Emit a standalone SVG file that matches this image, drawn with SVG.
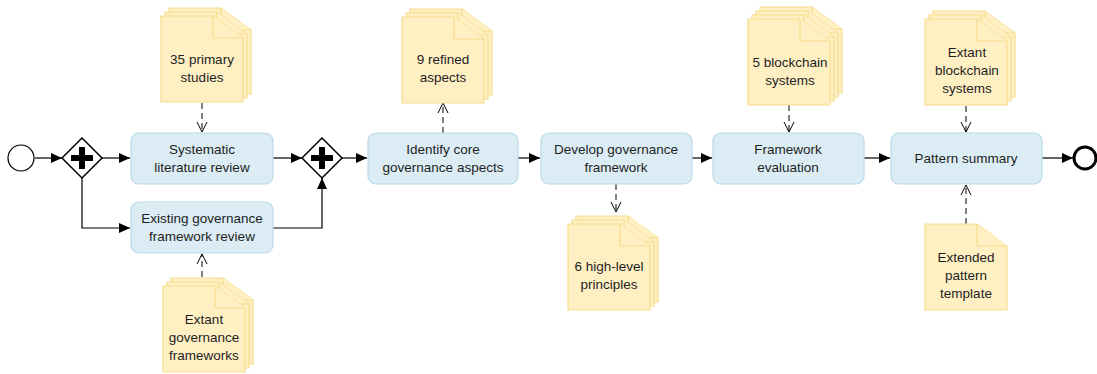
<svg xmlns="http://www.w3.org/2000/svg" xmlns:xlink="http://www.w3.org/1999/xlink" width="1097" height="374" viewBox="0 0 1097 374">
<style>
.task{fill:#dbecf4;stroke:#b9d9ea;stroke-width:1.2}
.doc{fill:#fff0c4;stroke:#f8dc8c;stroke-width:1.2}
.t{font-family:"Liberation Sans",Arial,sans-serif;font-size:13.5px;fill:#1e1e1e;text-anchor:middle}
.flow{fill:none;stroke:#000;stroke-width:1.2}
.assoc{fill:none;stroke:#000;stroke-width:1;stroke-dasharray:6,4}
.gw{fill:#fff;stroke:#000;stroke-width:1.5}
.plus{stroke:#000;stroke-width:6;stroke-linecap:butt}
</style>
<defs>
<marker id="arr" markerWidth="12" markerHeight="10" refX="11" refY="5" orient="auto" markerUnits="userSpaceOnUse">
<path d="M0,0 L11,5 L0,10 z" fill="#000"/>
</marker>
<marker id="open" markerWidth="12" markerHeight="12" refX="10" refY="6" orient="auto" markerUnits="userSpaceOnUse">
<path d="M0,1 L10,6 L0,11" fill="none" stroke="#000" stroke-width="1"/>
</marker>
<g id="page">
<path class="doc" d="M0,0 H52 L82,22 V86 H0 Z"/>
<path class="doc" d="M52,0 V22 H82"/>
</g>
<g id="stack3">
<use xlink:href="#page" x="8" y="-8"/>
<use xlink:href="#page" x="4" y="-4"/>
<use xlink:href="#page" x="0" y="0"/>
</g>
</defs>

<g id="connectors">
<path class="flow" d="M35,158 H62" marker-end="url(#arr)"/>
<path class="flow" d="M102,158 H130" marker-end="url(#arr)"/>
<path class="flow" d="M82,177 V228 H130" marker-end="url(#arr)"/>
<path class="flow" d="M273,158 H302" marker-end="url(#arr)"/>
<path class="flow" d="M273,228 H322 V178" marker-end="url(#arr)"/>
<path class="flow" d="M342,158 H367" marker-end="url(#arr)"/>
<path class="flow" d="M518,158 H540" marker-end="url(#arr)"/>
<path class="flow" d="M692,158 H712" marker-end="url(#arr)"/>
<path class="flow" d="M864,158 H890" marker-end="url(#arr)"/>
<path class="flow" d="M1042,158 H1073" marker-end="url(#arr)"/>
<path class="assoc" d="M202,103 V132" marker-end="url(#open)"/>
<path class="assoc" d="M202,277 V254" marker-end="url(#open)"/>
<path class="assoc" d="M443,133 V103" marker-end="url(#open)"/>
<path class="assoc" d="M616,184 V212" marker-end="url(#open)"/>
<path class="assoc" d="M789,105 V132" marker-end="url(#open)"/>
<path class="assoc" d="M966,106 V132" marker-end="url(#open)"/>
<path class="assoc" d="M966,224 V185" marker-end="url(#open)"/>
</g>

<g id="start"><circle cx="21" cy="158" r="13" fill="#fff" stroke="#000" stroke-width="1.2"/></g>
<g id="end"><circle cx="1085" cy="158" r="11" fill="#fff" stroke="#000" stroke-width="3"/></g>

<g id="gw1">
<path class="gw" d="M82,138 L102,158 L82,178 L62,158 Z"/>
<path class="plus" d="M71,158 H93 M82,147 V169"/>
</g>
<g id="gw2">
<path class="gw" d="M322,138 L342,158 L322,178 L302,158 Z"/>
<path class="plus" d="M311,158 H333 M322,147 V169"/>
</g>

<g id="task1"><rect class="task" x="131" y="133" width="142" height="51" rx="8"/>
<text class="t" x="202" y="154">Systematic</text><text class="t" x="202" y="172">literature review</text></g>
<g id="task2"><rect class="task" x="131" y="202" width="142" height="51" rx="8"/>
<text class="t" x="202" y="223">Existing governance</text><text class="t" x="202" y="241">framework review</text></g>
<g id="task3"><rect class="task" x="368" y="133" width="150" height="51" rx="8"/>
<text class="t" x="443" y="154">Identify core</text><text class="t" x="443" y="172">governance aspects</text></g>
<g id="task4"><rect class="task" x="541" y="133" width="151" height="51" rx="8"/>
<text class="t" x="616" y="154">Develop governance</text><text class="t" x="616" y="172">framework</text></g>
<g id="task5"><rect class="task" x="713" y="133" width="151" height="51" rx="8"/>
<text class="t" x="788" y="154">Framework</text><text class="t" x="788" y="172">evaluation</text></g>
<g id="task6"><rect class="task" x="891" y="133" width="151" height="51" rx="8"/>
<text class="t" x="966" y="163">Pattern summary</text></g>

<g id="doc1"><use xlink:href="#stack3" x="161" y="16"/>
<text class="t" x="202" y="64">35 primary</text><text class="t" x="202" y="82">studies</text></g>
<g id="doc2"><use xlink:href="#stack3" x="163" y="286"/>
<text class="t" x="204" y="324">Extant</text><text class="t" x="204" y="342">governance</text><text class="t" x="204" y="360">frameworks</text></g>
<g id="doc3"><use xlink:href="#stack3" x="402" y="17"/>
<text class="t" x="443" y="64">9 refined</text><text class="t" x="443" y="82">aspects</text></g>
<g id="doc4"><use xlink:href="#stack3" x="568" y="224"/>
<text class="t" x="609" y="271">6 high-level</text><text class="t" x="609" y="289">principles</text></g>
<g id="doc5"><use xlink:href="#page" x="760" y="7"/><use xlink:href="#stack3" x="748" y="19"/>
<text class="t" x="790" y="67">5 blockchain</text><text class="t" x="790" y="85">systems</text></g>
<g id="doc6"><use xlink:href="#stack3" x="925" y="19"/>
<text class="t" x="967" y="57">Extant</text><text class="t" x="967" y="75">blockchain</text><text class="t" x="967" y="93">systems</text></g>
<g id="doc7"><use xlink:href="#page" x="925" y="224"/>
<text class="t" x="966" y="262">Extended</text><text class="t" x="966" y="280">pattern</text><text class="t" x="966" y="298">template</text></g>
</svg>
